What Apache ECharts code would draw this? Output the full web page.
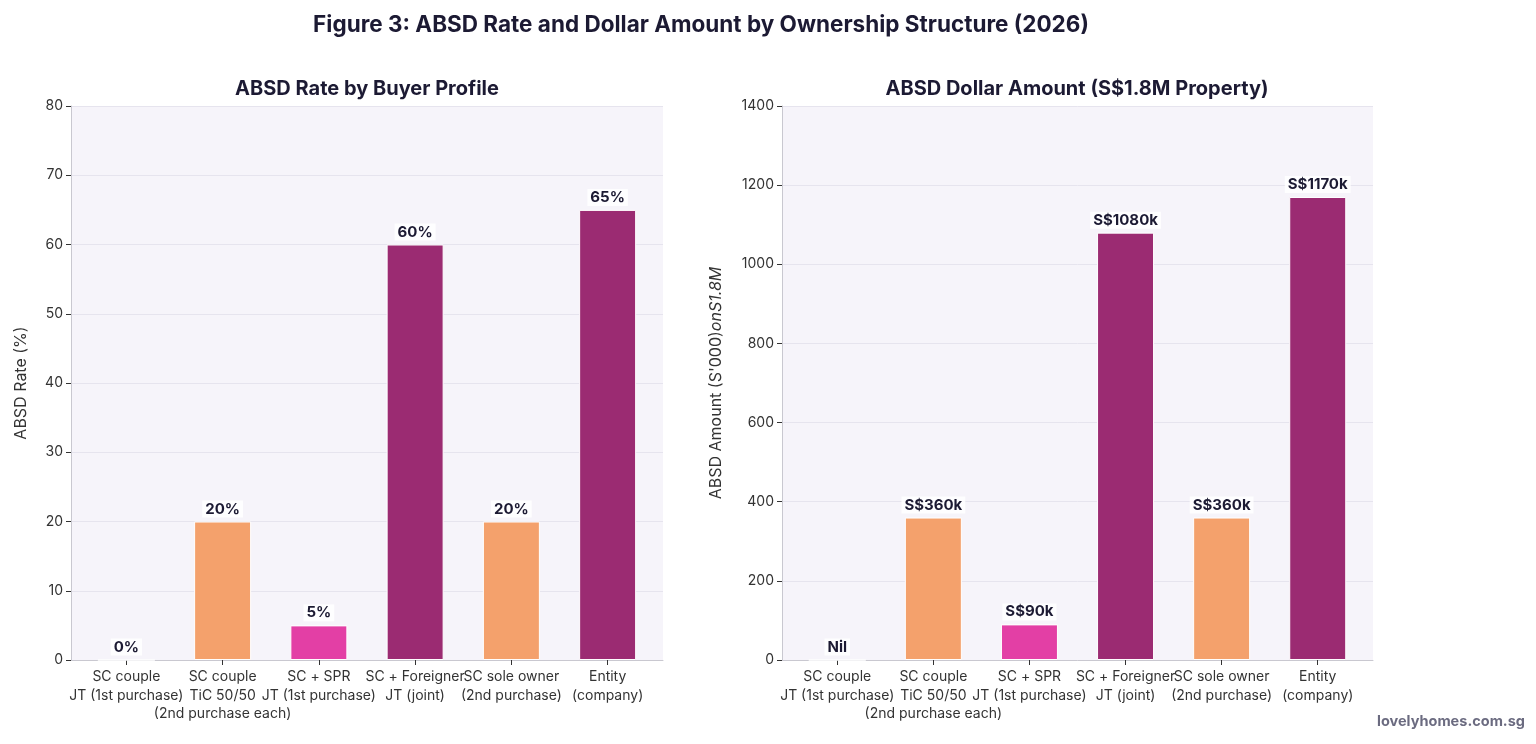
<!DOCTYPE html>
<html>
<head>
<meta charset="utf-8">
<script src="https://cdn.jsdelivr.net/npm/echarts@6/dist/echarts.min.js"></script>
<style>
  html, body { margin: 0; padding: 0; background: #fff; }
  #chart { width: 1536px; height: 744px; }
</style>
</head>
<body>
<div id="chart"></div>
<script>
const categories = [
  'SC couple\nJT (1st purchase)',
  'SC couple\nTiC 50/50\n(2nd purchase each)',
  'SC + SPR\nJT (1st purchase)',
  'SC + Foreigner\nJT (joint)',
  'SC sole owner\n(2nd purchase)',
  'Entity\n(company)',
]
const rates = [0, 20, 5, 60, 20, 65]
const amounts = [0, 360, 90, 1080, 360, 1170]
const amountLabels = ['Nil', 'S$360k', 'S$90k', 'S$1080k', 'S$360k', 'S$1170k']
const barColors = ['#f4a16c', '#f4a16c', '#e33fa5', '#9b2b72', '#f4a16c', '#9b2b72']

const FONT = 'Inter, "Open Sans", sans-serif'
const INK = '#1c1a33'
// bar positions on the x value axis (1-based so no position sits on zero)
const pos = categories.map((_, i) => i + 1)
const X_MIN = 0.425
const X_MAX = 6.575

function xAxisFor(gridIndex) {
  return {
    type: 'value', gridIndex, min: X_MIN, max: X_MAX,
    axisLine: { show: true, onZero: false, lineStyle: { color: '#c9c8d0' } },
    axisTick: { show: true, customValues: pos, length: 5, lineStyle: { color: '#333' } },
    axisLabel: {
      // blank labels at both ends so the real labels are never dropped as min/max overlaps
      customValues: [X_MIN].concat(pos, [X_MAX]),
      margin: 8, fontSize: 14, lineHeight: 18.5, color: '#333', fontFamily: FONT,
      hideOverlap: false,
      formatter: v => (Number.isInteger(v) ? categories[v - 1] : ''),
    },
    splitLine: { show: false },
  }
}

function yAxisFor(gridIndex, max, interval, name, nameGap, extra) {
  return Object.assign({
    type: 'value', gridIndex, min: 0, max, interval,
    name, nameLocation: 'middle', nameGap,
    nameTextStyle: { fontSize: 16, color: '#333', fontFamily: FONT },
    axisLine: { show: true, onZero: false, lineStyle: { color: '#c9c8d0' } },
    axisTick: { show: true, length: 5, lineStyle: { color: '#333' } },
    axisLabel: { fontSize: 14, color: '#333', fontFamily: FONT, margin: 8, showMinLabel: true, formatter: v => String(v) },
    splitLine: { show: true, lineStyle: { color: '#e6e4ee' } },
  }, extra || {})
}

function barSeries(i, values, labels) {
  return {
    type: 'bar', xAxisIndex: i, yAxisIndex: i, barWidth: 57,
    data: values.map((v, k) => ({
      value: [pos[k], v],
      itemStyle: { color: barColors[k] },
      label: { formatter: labels[k] },
    })),
    itemStyle: { borderColor: '#fff', borderWidth: 1 },
    label: {
      show: true, position: 'top', distance: 4,
      fontSize: 15, fontWeight: 'bold', color: INK, fontFamily: FONT,
      backgroundColor: 'rgba(255,255,255,0.85)', padding: [1, 3],
    },
  }
}

const chart = echarts.init(document.getElementById('chart'))
chart.setOption({
  animation: false,
  grid: [
    { left: 71, top: 106, width: 592, height: 554, show: true, backgroundColor: '#f6f4fa', borderWidth: 0 },
    { left: 782, top: 106, width: 591, height: 554, show: true, backgroundColor: '#f6f4fa', borderWidth: 0 },
  ],
  xAxis: [xAxisFor(0), xAxisFor(1)],
  yAxis: [
    yAxisFor(0, 80, 10, 'ABSD Rate (%)', 42),
    yAxisFor(1, 1400, 200, "{a|ABSD Amount (S'000)}{b|onS1.8M}", 58, {
      nameTextStyle: {
        fontSize: 16, color: '#333', fontFamily: FONT,
        rich: {
          a: { fontSize: 16, color: '#333', fontFamily: FONT },
          b: { fontSize: 16, color: '#333', fontFamily: FONT, fontStyle: 'italic' },
        },
      },
    }),
  ],
  series: [
    barSeries(0, rates, rates.map(v => v + '%')),
    barSeries(1, amounts, amountLabels),
  ],
  graphic: [
    { type: 'text', x: 701, y: 25, style: { text: 'Figure 3: ABSD Rate and Dollar Amount by Ownership Structure (2026)', font: 'bold 22.5px ' + FONT, fill: INK, textAlign: 'center', textVerticalAlign: 'middle' } },
    { type: 'text', x: 367, y: 89, style: { text: 'ABSD Rate by Buyer Profile', font: 'bold 20px ' + FONT, fill: INK, textAlign: 'center', textVerticalAlign: 'middle' } },
    { type: 'text', x: 1077, y: 89, style: { text: 'ABSD Dollar Amount (S$1.8M Property)', font: 'bold 20px ' + FONT, fill: INK, textAlign: 'center', textVerticalAlign: 'middle' } },
    { type: 'text', x: 1525, y: 722, style: { text: 'lovelyhomes.com.sg', font: 'bold 14.5px ' + FONT, fill: '#6b6b80', textAlign: 'right', textVerticalAlign: 'middle' } },
  ],
})
</script>
</body>
</html>
